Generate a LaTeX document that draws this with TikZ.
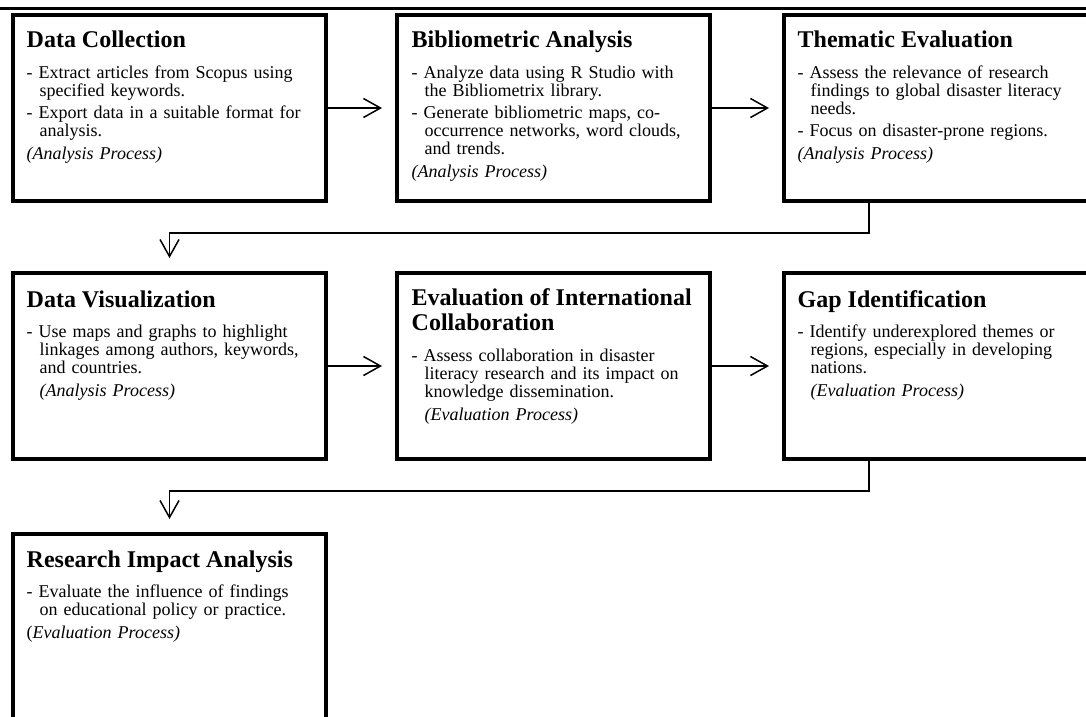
\documentclass[tikz,border=0pt]{standalone}
\usepackage{fontspec}
\setmainfont{Liberation Serif}
\usetikzlibrary{arrows.meta,calc}
\newcommand\mybody{\fontsize{18}{18}\selectfont}
\newcommand\mytitle{\fontsize{24}{25}\selectfont\bfseries}
\newcommand\itemgap{\par\vspace{4.5pt}}
\newcommand\italgap{\par\vspace{5pt}}
\newcommand\hangit{\hangindent=13pt\relax\hangafter=1\relax}
\setlength{\parindent}{0pt}
\begin{document}
\begin{tikzpicture}[x=1pt,y=-1pt,
  stepbox/.style={draw, line width=4pt, rectangle, minimum width=313pt, minimum height=186pt, inner sep=0pt, anchor=north west},
  boxtext/.style={anchor=north west, inner sep=0pt, text width=300pt, align=left, font=\mybody},
  conn/.style={line width=1.5pt, shorten >=13pt, -{Straight Barb[length=17pt,width=19pt,line width=1.5pt]}},
  toprule/.style={line width=2.5pt}
]
\useasboundingbox (0,0) rectangle (1086,716);
\clip (0,0) rectangle (1086,716);

\coordinate (rl) at (0,8.5);
\coordinate (rr) at (1086,8.5);
\draw[toprule] (rl) -- (rr);

% boxes
\node[stepbox] (b1) at (11,13) {};
\node[stepbox] (b2) at (395,13) {};
\node[stepbox] (b3) at (782,13) {};
\node[stepbox] (b4) at (11,271) {};
\node[stepbox] (b5) at (395,271) {};
\node[stepbox] (b6) at (782,271) {};
\node[stepbox] (b7) at (11,532) {};

% texts
\node[boxtext] (t1) at ([shift={(15.5,17)}]b1.north west) {\rule{0pt}{17pt}{\mytitle Data Collection\par}\vspace{13pt}
\hangit - Extract articles from Scopus using\newline specified keywords.\itemgap
\hangit - Export data in a suitable format for\newline analysis.\italgap
\textit{(Analysis Process)}};

\node[boxtext] (t2) at ([shift={(16.5,17)}]b2.north west) {\rule{0pt}{17pt}{\mytitle Bibliometric Analysis\par}\vspace{13pt}
\hangit - Analyze data using R Studio with\newline the Bibliometrix library.\itemgap
\hangit - Generate bibliometric maps, co-\newline occurrence networks, word clouds,\newline and trends.\italgap
\textit{(Analysis Process)}};

\node[boxtext] (t3) at ([shift={(15.5,17)}]b3.north west) {\rule{0pt}{17pt}{\mytitle Thematic Evaluation\par}\vspace{13pt}
\hangit - Assess the relevance of research\newline findings to global disaster literacy\newline needs.\itemgap
\hangit - Focus on disaster-prone regions.\italgap
\textit{(Analysis Process)}};

\node[boxtext] (t4) at ([shift={(15.5,19)}]b4.north west) {\rule{0pt}{17pt}{\mytitle Data Visualization\par}\vspace{12pt}
\hangit - Use maps and graphs to highlight\newline linkages among authors, keywords,\newline and countries.\italgap
\hspace*{13pt}\textit{(Analysis Process)}};

\node[boxtext] (t5) at ([shift={(16.5,17)}]b5.north west) {\rule{0pt}{17pt}{\mytitle Evaluation of International\newline Collaboration\par}\vspace{13pt}
\hangit - Assess collaboration in disaster\newline literacy research and its impact on\newline knowledge dissemination.\italgap
\hspace*{13pt}\textit{(Evaluation Process)}};

\node[boxtext] (t6) at ([shift={(15.5,19)}]b6.north west) {\rule{0pt}{17pt}{\mytitle Gap Identification\par}\vspace{12pt}
\hangit - Identify underexplored themes or\newline regions, especially in developing\newline nations.\italgap
\hspace*{13pt}\textit{(Evaluation Process)}};

\node[boxtext] (t7) at ([shift={(15.5,18)}]b7.north west) {\rule{0pt}{17pt}{\mytitle Research Impact Analysis\par}\vspace{12pt}
\hangit - Evaluate the influence of findings\newline on educational policy or practice.\italgap
(\textit{Evaluation Process)}};

% connectors
\draw[conn] (b1.east) -- (b2.west);
\draw[conn] (b2.east) -- (b3.west);
\draw[conn] (b4.east) -- (b5.west);
\draw[conn] (b5.east) -- (b6.west);
\coordinate (k1) at ([xshift=87pt]b3.south west);
\coordinate (k2) at ([xshift=87pt]b6.south west);
\draw[conn] (k1) -- ++(0,30) -| (b4.north);
\draw[conn] (k2) -- ++(0,30) -| (b7.north);
\end{tikzpicture}
\end{document}
